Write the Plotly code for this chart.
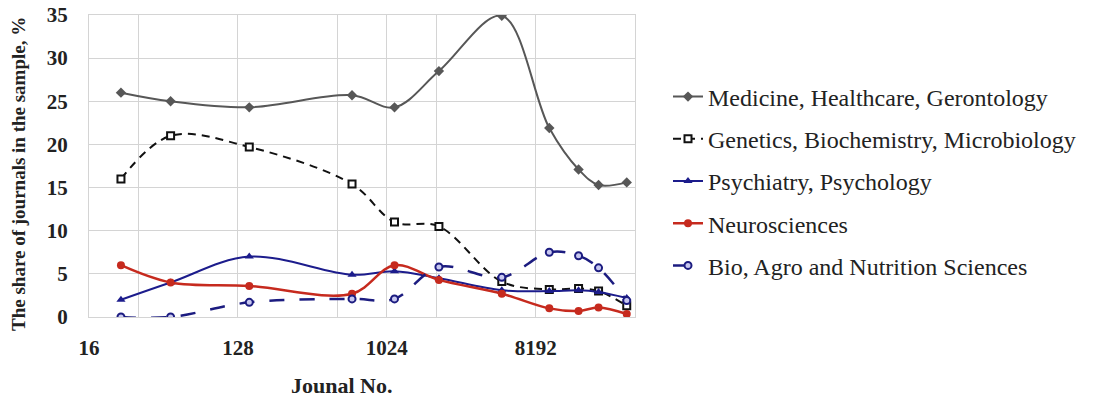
import plotly.graph_objects as go

journal_no = [25, 50, 150, 630, 1140, 2120, 5100, 9900, 14900, 19700, 29200]

medicine = [26.0, 25.0, 24.3, 25.7, 24.3, 28.5, 34.9, 21.9, 17.1, 15.3, 15.6]
genetics = [16.0, 21.0, 19.7, 15.4, 11.0, 10.5, 4.1, 3.2, 3.3, 3.0, 1.3]
psychiatry = [2.0, 4.0, 7.0, 4.9, 5.3, 4.5, 3.1, 3.0, 3.1, 2.9, 2.2]
neuro = [6.0, 4.0, 3.6, 2.7, 6.0, 4.3, 2.7, 1.0, 0.7, 1.1, 0.35]
bio = [0.0, 0.0, 1.7, 2.1, 2.1, 5.8, 4.6, 7.5, 7.1, 5.7, 1.9]

names = [
    "Medicine, Healthcare, Gerontology",
    "Genetics, Biochemistry, Microbiology",
    "Psychiatry, Psychology",
    "Neurosciences",
    "Bio, Agro and Nutrition Sciences",
]

x_grid = [16, 32, 128, 512, 1024, 2048, 8192, 32768]
x_labels = ["16", "", "128", "", "1024", "", "8192", ""]
y_ticks = [0, 5, 10, 15, 20, 25, 30, 35]

SERIF = "Liberation Serif, Times New Roman, serif"
GRID = "#d4d4d4"

PL, PR, PT, PB = 89, 635, 15, 317   # plot area in window pixels
W, H = 1096, 397

fig = go.Figure()

styles = [
    (medicine, dict(color="#575757", width=2, dash="solid"),
     dict(symbol="diamond", size=8, color="#575757")),
    (genetics, dict(color="#111111", width=2, dash="8px,6px"),
     dict(symbol="square", size=7, color="white", line=dict(color="#111111", width=2))),
    (psychiatry, dict(color="#1c1c8c", width=2, dash="solid"),
     dict(symbol="triangle-up", size=8, color="#1c1c8c")),
    (neuro, dict(color="#c62a1e", width=2.5, dash="solid"),
     dict(symbol="circle", size=8, color="#c62a1e")),
    (bio, dict(color="#1c1c80", width=2.5, dash="longdash"),
     dict(symbol="circle", size=7, color="#c8c8f0", line=dict(color="#1c1c80", width=2))),
]

for i, (vals, line, marker) in enumerate(styles):
    fig.add_trace(go.Scatter(
        x=journal_no, y=vals, name=names[i], mode="lines+markers",
        line=dict(shape="spline", smoothing=1, **line), marker=marker,
        legendgroup=f"g{i}",
    ))

pw, ph = PR - PL, PB - PT

fig.update_layout(
    width=W, height=H,
    margin=dict(l=PL, r=W - PR, t=PT, b=H - PB, autoexpand=False),
    paper_bgcolor="white", plot_bgcolor="white",
    font=dict(family=SERIF, color="#222222"),
    legend=dict(
        x=(668 - PL) / pw, xanchor="left", y=(PB - 181) / ph, yanchor="middle",
        font=dict(family=SERIF, size=24, color="#222222"),
        traceorder="grouped", tracegroupgap=8,
        bgcolor="rgba(0,0,0,0)",
    ),
    showlegend=True,
)

fig.update_xaxes(
    type="log", range=[1.20412, 4.51545],
    tickvals=x_grid, ticktext=x_labels,
    showgrid=True, gridcolor=GRID, gridwidth=1,
    showline=True, mirror=True, linecolor=GRID, zeroline=False, ticks="",
    tickfont=dict(family=SERIF, size=21, color="#222222", weight="bold"),
    ticklabelstandoff=12, ticklabeloverflow="allow",
)
fig.update_yaxes(
    range=[0, 35], tickvals=y_ticks,
    showgrid=True, gridcolor=GRID, gridwidth=1,
    showline=True, mirror=True, linecolor=GRID, zeroline=False, ticks="",
    tickfont=dict(family=SERIF, size=21, color="#222222", weight="bold"),
    ticklabelstandoff=16, ticklabeloverflow="allow",
)

fig.add_annotation(
    text="The share of journals in the sample, %", xref="paper", yref="paper",
    x=-(PL - 18) / pw, y=(PB - 174) / ph, xanchor="center", yanchor="middle",
    textangle=-90, showarrow=False,
    font=dict(family=SERIF, size=19, color="#222222", weight="bold"),
)

fig.add_annotation(
    text="Jounal No.", xref="paper", yref="paper",
    x=(341 - PL) / pw, y=-(385 - PB) / ph, xanchor="center", yanchor="middle",
    showarrow=False, font=dict(family=SERIF, size=22, color="#222222", weight="bold"),
)

fig.write_html(
    "out.html",
    config={"displayModeBar": False},
    post_script="document.body.style.margin='0';document.body.style.overflow='hidden';",
)
